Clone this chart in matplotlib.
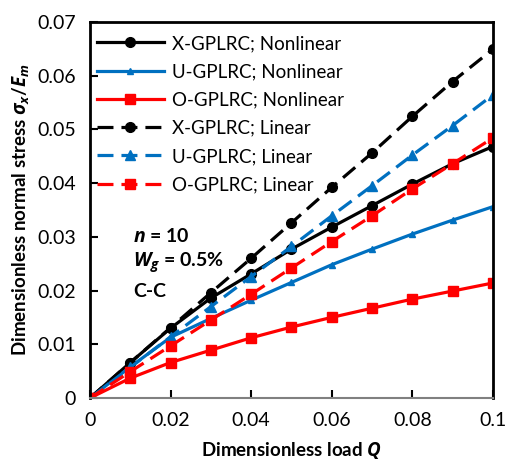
import matplotlib.pyplot as plt

plt.rcParams['font.family'] = ['Lato', 'DejaVu Sans']
plt.rcParams['mathtext.fontset'] = 'custom'
plt.rcParams['mathtext.it'] = 'Open Sans:italic:bold'
plt.rcParams['mathtext.rm'] = 'Lato:bold'

q = [0, 0.01, 0.02, 0.03, 0.04, 0.05, 0.06, 0.07, 0.08, 0.09, 0.1]

x_nonlin = [0, 0.0066, 0.0130, 0.0186, 0.0231, 0.0277, 0.0318, 0.0358, 0.0398, 0.0436, 0.0468]
u_nonlin = [0, 0.0058, 0.0113, 0.0148, 0.0182, 0.0215, 0.0248, 0.0277, 0.0305, 0.0331, 0.0356]
o_nonlin = [0, 0.0037, 0.0066, 0.0089, 0.0112, 0.0132, 0.0150, 0.0167, 0.0184, 0.0199, 0.0214]
x_lin = [0, 0.0066, 0.0131, 0.0196, 0.0260, 0.0326, 0.0392, 0.0456, 0.0524, 0.0589, 0.0649]
u_lin = [0, 0.0057, 0.0114, 0.0170, 0.0226, 0.0282, 0.0339, 0.0395, 0.0452, 0.0507, 0.0564]
o_lin = [0, 0.0049, 0.0097, 0.0145, 0.0193, 0.0242, 0.0291, 0.0339, 0.0389, 0.0436, 0.0484]

BLUE = '#0070C0'
RED = '#FF0000'

fig = plt.figure(figsize=(5.06, 4.66), dpi=100)
ax = fig.add_axes([0.178, 0.146, 0.796, 0.807])

ax.plot(q, x_nonlin, '-', color='black', lw=2.3, marker='o', ms=7, label='X-GPLRC; Nonlinear')
ax.plot(q, u_nonlin, '-', color=BLUE, lw=2.3, marker='^', ms=5, label='U-GPLRC; Nonlinear')
ax.plot(q, o_nonlin, '-', color=RED, lw=2.3, marker='s', ms=7, label='O-GPLRC; Nonlinear')
ax.plot(q, x_lin, '--', color='black', lw=2.3, marker='o', ms=7, dashes=(5, 2.5), label='X-GPLRC; Linear')
ax.plot(q, u_lin, '--', color=BLUE, lw=2.3, marker='^', ms=7, dashes=(5, 2.5), label='U-GPLRC; Linear')
ax.plot(q, o_lin, '--', color=RED, lw=2.3, marker='s', ms=7, dashes=(5, 2.5), label='O-GPLRC; Linear')

ax.set_xlim(0, 0.1)
ax.set_ylim(0, 0.07)
ax.set_xticks([0, 0.02, 0.04, 0.06, 0.08, 0.1])
ax.set_xticklabels(['0', '0.02', '0.04', '0.06', '0.08', '0.1'])
ax.set_yticks([0, 0.01, 0.02, 0.03, 0.04, 0.05, 0.06, 0.07])
ax.set_yticklabels(['0', '0.01', '0.02', '0.03', '0.04', '0.05', '0.06', '0.07'])
ax.tick_params(direction='in', length=6, width=1.5, labelsize=14, pad=10)

for side in ['left', 'top', 'right']:
    ax.spines[side].set_linewidth(2)
ax.spines['bottom'].set_color('#808080')
ax.spines['bottom'].set_linewidth(1.5)

ax.set_xlabel(r'Dimensionless load $Q$', fontsize=13.5, fontweight='bold', labelpad=8)
ax.set_ylabel(r'Dimensionless normal stress $\sigma_x/E_m$', fontsize=13.5,
              fontweight='bold', labelpad=4)

ax.text(0.0107, 0.0302, r'$n$ = 10', fontsize=14, fontweight='bold', va='center')
ax.text(0.0107, 0.0253, r'$W_g$ = 0.5%', fontsize=14, fontweight='bold', va='center')
ax.text(0.0107, 0.0199, 'C-C', fontsize=14, fontweight='bold', va='center')

ax.legend(loc='upper left', bbox_to_anchor=(-0.016, 1.0), frameon=False, fontsize=13.5,
          handlelength=3.6, borderaxespad=0.5, labelspacing=0.6, handletextpad=0.4,
          borderpad=0.2)

fig.savefig('out.png', dpi=100)
